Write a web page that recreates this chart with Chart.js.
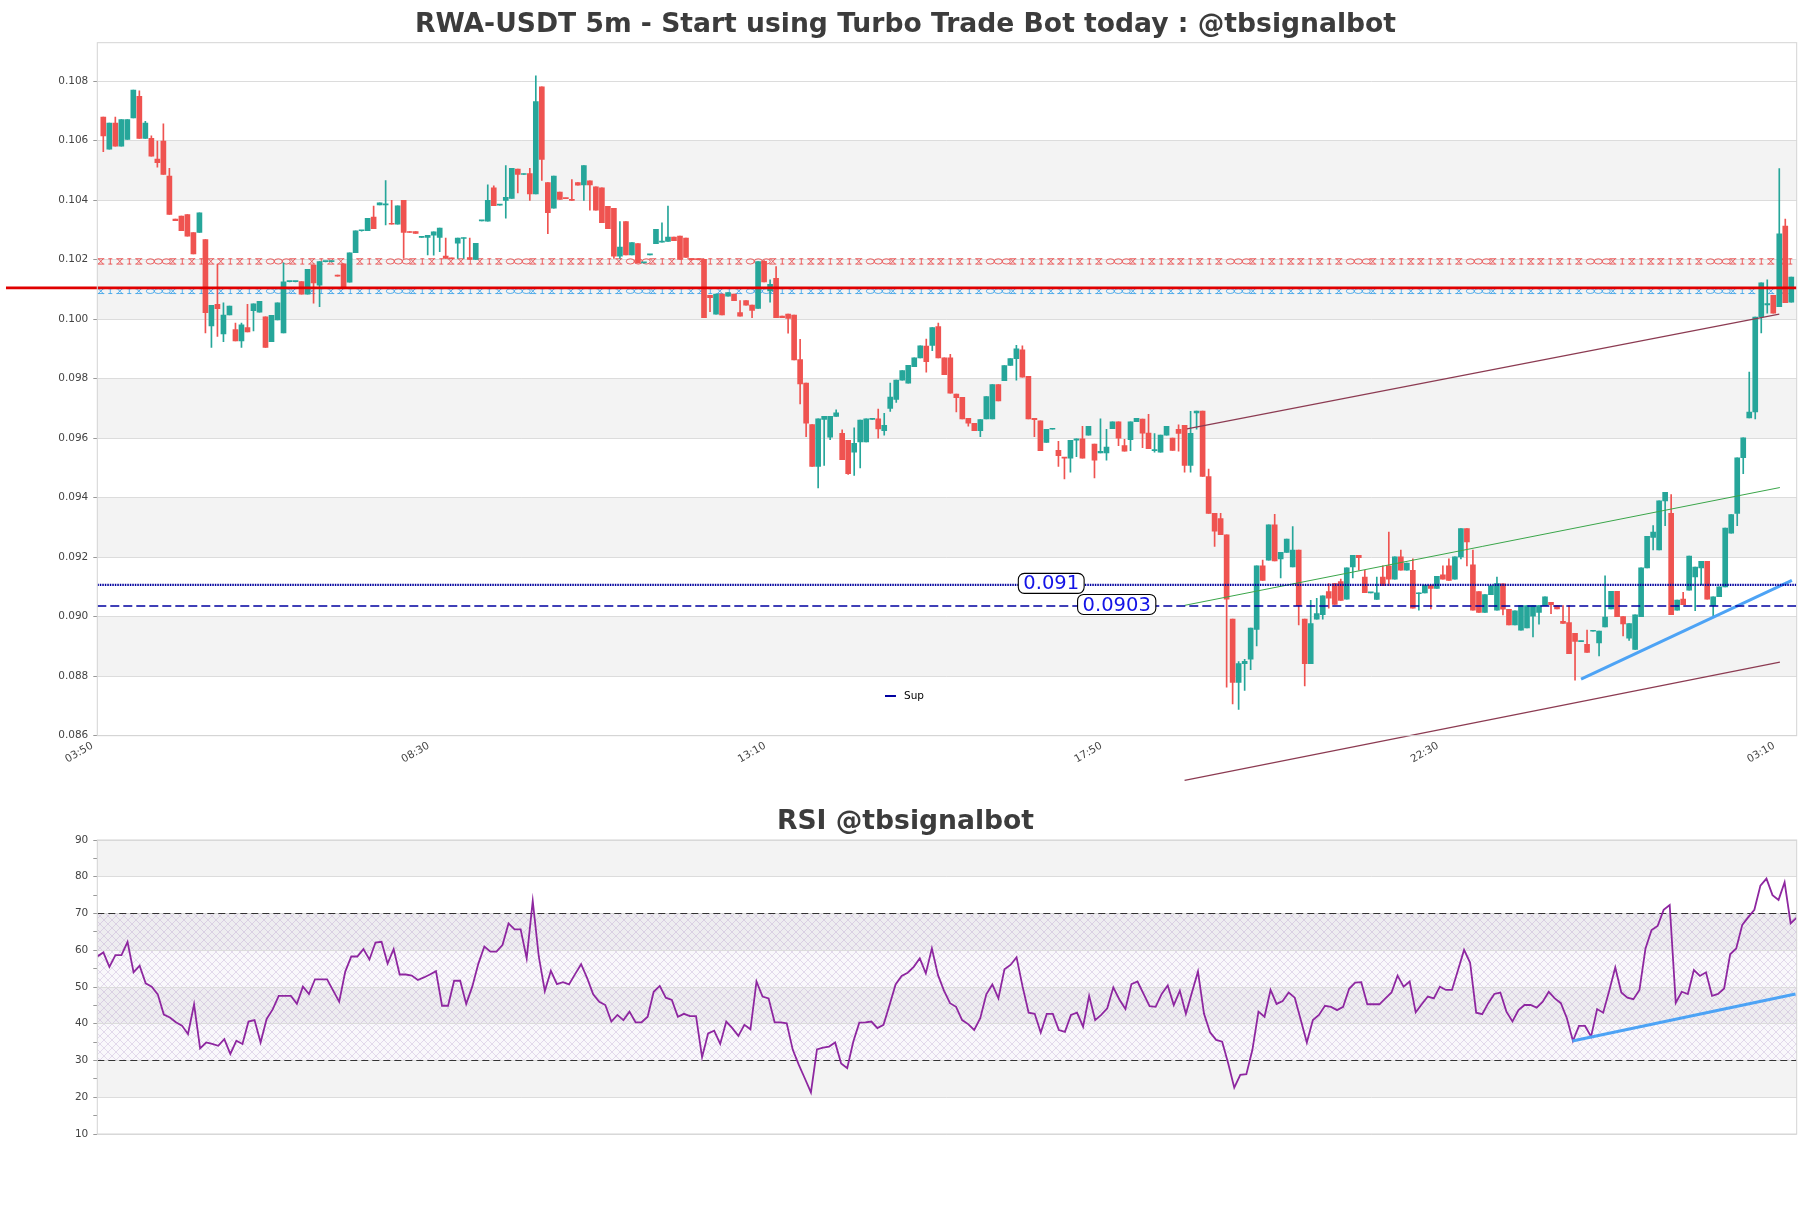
<!DOCTYPE html>
<html>
<head>
<meta charset="utf-8">
<script src="https://cdn.jsdelivr.net/npm/chart.js@4.4.1/dist/chart.umd.min.js"></script>
<style>
  html, body { margin: 0; padding: 0; background: #fff; }
  body { width: 1811px; height: 1208px; position: relative; overflow: hidden; }
  #priceBox { position: absolute; left: 0; top: 0; width: 1811px; height: 800px; }
  #rsiBox { position: absolute; left: 0; top: 800px; width: 1811px; height: 408px; }
</style>
</head>
<body>
<div id="priceBox"><canvas id="priceChart"></canvas></div>
<div id="rsiBox"><canvas id="rsiChart"></canvas></div>
<script>
// candles, one per 5 minutes, first one at 03:55
const opens = [
  .10679,.10571,.10659,.10581,.10604,.10676,.10749,.10607,.10608,.10538,
  .10598,.10481,.10336,.10346,.10351,.10291,.10291,.10267,.09977,.10050,
  .09950,.10014,.09965,.09927,.09972,.10028,.10023,.10008,.09924,.09997,
  .09954,.10126,.10126,.10126,.10084,.10182,.10114,.10193,.10193,.10148,
  .10186,.10124,.10223,.10297,.10297,.10343,.10384,.10384,.10320,.10319,
  .10399,.10294,.10294,.10275,.10275,.10282,.10275,.10212,.10205,.10255,
  .10271,.10207,.10201,.10330,.10329,.10441,.10383,.10399,.10406,.10504,
  .10486,.10489,.10421,.10781,.10459,.10373,.10427,.10407,.10403,.10459,
  .10451,.10465,.10445,.10441,.10379,.10372,.10212,.10328,.10216,.10254,
  .10189,.10216,.10254,.10259,.10261,.10276,.10279,.10272,.10201,.10201,
  .10201,.10080,.10017,.10084,.10077,.10084,.10022,.10062,.10047,.10036,
  .10194,.10095,.10137,.10010,.10017,.10014,.09864,.09785,.09646,.09505,
  .09663,.09603,.09673,.09616,.09593,.09553,.09587,.09587,.09663,.09665,
  .09625,.09700,.09730,.09795,.09785,.09840,.09870,.09909,.09912,.09975,
  .09870,.09870,.09748,.09737,.09667,.09650,.09625,.09665,.09665,.09780,
  .09793,.09844,.09867,.09897,.09808,.09667,.09658,.09586,.09630,.09559,
  .09535,.09533,.09593,.09598,.09610,.09580,.09550,.09550,.09632,.09655,
  .09575,.09595,.09655,.09664,.09617,.09558,.09553,.09610,.09600,.09630,
  .09643,.09508,.09685,.09691,.09471,.09347,.09330,.09275,.08992,.08779,
  .08842,.08857,.08957,.09171,.09190,.09309,.09194,.09216,.09167,.09224,
  .08992,.08842,.08992,.09007,.09084,.09111,.09118,.09059,.09167,.09206,
  .09133,.09080,.09058,.09133,.09171,.09126,.09201,.09156,.09156,.09077,
  .09080,.09106,.09095,.09141,.09171,.09126,.09201,.09296,.09174,.09084,
  .09014,.09074,.09022,.09110,.09025,.08972,.08955,.08962,.09002,.09014,
  .09037,.09048,.09037,.08984,.08980,.08944,.08916,.08907,.08951,.08912,
  .08966,.09026,.09085,.09000,.08928,.08890,.09000,.09164,.09266,.09224,
  .09389,.09347,.09022,.09059,.09089,.09134,.09164,.09186,.09037,.09067,
  .09100,.09281,.09347,.09534,.09668,.09688,.10007,.10048,.10080,.10042,.10313,.10057
];
const highs = [
  .10679,.10659,.10679,.10671,.10671,.10770,.10767,.10665,.10616,.10598,
  .10656,.10507,.10336,.10346,.10351,.10291,.10357,.10267,.10046,.10185,
  .10055,.10044,.09987,.09987,.10050,.10051,.10060,.10008,.10013,.10055,
  .10189,.10127,.10127,.10126,.10167,.10182,.10193,.10194,.10194,.10148,
  .10186,.10223,.10297,.10298,.10339,.10380,.10391,.10466,.10399,.10381,
  .10399,.10294,.10294,.10277,.10282,.10293,.10306,.10272,.10205,.10272,
  .10273,.10272,.10255,.10332,.10451,.10448,.10385,.10516,.10507,.10504,
  .10488,.10507,.10818,.10781,.10459,.10481,.10427,.10407,.10469,.10459,
  .10516,.10465,.10445,.10441,.10379,.10372,.10328,.10328,.10257,.10254,
  .10190,.10217,.10302,.10324,.10380,.10276,.10279,.10272,.10202,.10202,
  .10201,.10080,.10084,.10084,.10089,.10084,.10062,.10062,.10047,.10193,
  .10197,.10132,.10177,.10010,.10017,.10014,.09932,.09785,.09646,.09665,
  .09673,.09673,.09695,.09628,.09593,.09635,.09661,.09665,.09665,.09698,
  .09683,.09785,.09795,.09827,.09845,.09870,.09910,.09933,.09972,.09987,
  .09870,.09882,.09748,.09737,.09667,.09650,.09662,.09740,.09780,.09780,
  .09844,.09867,.09912,.09910,.09808,.09667,.09658,.09630,.09632,.09589,
  .09535,.09593,.09598,.09640,.09640,.09580,.09665,.09630,.09655,.09655,
  .09596,.09655,.09667,.09664,.09680,.09615,.09610,.09640,.09600,.09645,
  .09643,.09690,.09691,.09691,.09496,.09347,.09347,.09275,.08992,.08849,
  .08857,.08962,.09171,.09190,.09309,.09344,.09216,.09261,.09303,.09224,
  .08992,.09055,.09062,.09070,.09111,.09111,.09126,.09164,.09206,.09206,
  .09156,.09082,.09133,.09171,.09284,.09201,.09224,.09180,.09194,.09080,
  .09106,.09106,.09136,.09171,.09194,.09201,.09296,.09296,.09224,.09084,
  .09074,.09104,.09133,.09110,.09025,.09020,.09037,.09037,.09037,.09037,
  .09067,.09048,.09037,.09037,.09037,.08944,.08918,.08955,.08953,.08952,
  .09137,.09085,.09085,.09000,.08977,.09006,.09164,.09270,.09306,.09389,
  .09418,.09410,.09056,.09082,.09204,.09167,.09186,.09186,.09067,.09100,
  .09298,.09343,.09534,.09601,.09822,.10007,.10122,.10132,.10080,.10506,.10336,.10141
];
const lows = [
  .10563,.10571,.10581,.10581,.10604,.10676,.10607,.10607,.10548,.10511,
  .10486,.10352,.10331,.10297,.10279,.10219,.10291,.09954,.09905,.09942,
  .09924,.10014,.09927,.09905,.09957,.09960,.10023,.09905,.09924,.09997,
  .09954,.10125,.10125,.10084,.10084,.10054,.10042,.10192,.10192,.10144,
  .10107,.10124,.10223,.10296,.10297,.10304,.10384,.10317,.10319,.10319,
  .10204,.10291,.10288,.10275,.10216,.10215,.10227,.10204,.10203,.10204,
  .10204,.10201,.10201,.10330,.10329,.10381,.10383,.10339,.10406,.10424,
  .10486,.10399,.10421,.10466,.10287,.10373,.10402,.10405,.10399,.10450,
  .10399,.10366,.10366,.10324,.10304,.10204,.10204,.10216,.10216,.10189,
  .10189,.10216,.10254,.10259,.10261,.10264,.10201,.10207,.10199,.10199,
  .10005,.10025,.10017,.10014,.10077,.10062,.10010,.10047,.10005,.10036,
  .10125,.10057,.10005,.10005,.09953,.09863,.09715,.09605,.09505,.09433,
  .09508,.09595,.09673,.09528,.09478,.09475,.09500,.09587,.09663,.09600,
  .09610,.09690,.09720,.09795,.09785,.09840,.09870,.09822,.09894,.09870,
  .09813,.09751,.09688,.09665,.09640,.09625,.09605,.09665,.09665,.09725,
  .09793,.09844,.09795,.09805,.09665,.09605,.09558,.09586,.09630,.09505,
  .09463,.09486,.09538,.09533,.09610,.09466,.09550,.09526,.09632,.09575,
  .09556,.09558,.09655,.09568,.09565,.09553,.09553,.09610,.09559,.09556,
  .09486,.09486,.09630,.09471,.09347,.09236,.09276,.08763,.08707,.08688,
  .08752,.08822,.08902,.09122,.09190,.09187,.09130,.09216,.09167,.08972,
  .08767,.08842,.08992,.08992,.09029,.09041,.09055,.09059,.09130,.09156,
  .09081,.09080,.09058,.09104,.09104,.09126,.09156,.09156,.09029,.09022,
  .09080,.09026,.09095,.09126,.09122,.09126,.09194,.09171,.09022,.09014,
  .09014,.09074,.09022,.09006,.08972,.08972,.08955,.08962,.08932,.08975,
  .09037,.09010,.09026,.08977,.08876,.08787,.08916,.08880,.08951,.08868,
  .08966,.09026,.09000,.08935,.08920,.08890,.09000,.09164,.09224,.09224,
  .09306,.09007,.09022,.09040,.09089,.09020,.09107,.09059,.08999,.09067,
  .09100,.09281,.09306,.09481,.09668,.09665,.09954,.10020,.10020,.10042,.10055,.10057
];
const closes = [
  .10616,.10659,.10581,.10671,.10671,.10770,.10607,.10659,.10548,.10526,
  .10486,.10352,.10331,.10297,.10279,.10219,.10357,.10022,.10046,.10035,
  .10014,.10044,.09927,.09981,.09957,.10051,.10060,.09905,.10013,.10055,
  .10125,.10127,.10127,.10084,.10167,.10122,.10193,.10194,.10194,.10144,
  .10107,.10223,.10297,.10298,.10339,.10304,.10391,.10386,.10319,.10381,
  .10291,.10291,.10288,.10277,.10282,.10293,.10306,.10204,.10203,.10272,
  .10273,.10201,.10255,.10332,.10399,.10381,.10385,.10409,.10507,.10486,
  .10488,.10421,.10731,.10537,.10358,.10481,.10402,.10405,.10399,.10450,
  .10516,.10451,.10366,.10324,.10304,.10212,.10242,.10216,.10257,.10189,
  .10190,.10217,.10302,.10261,.10276,.10264,.10201,.10207,.10200,.10200,
  .10005,.10072,.10084,.10014,.10089,.10062,.10010,.10047,.10029,.10193,
  .10125,.10117,.10005,.10005,.10002,.09863,.09782,.09650,.09505,.09665,
  .09673,.09673,.09685,.09528,.09481,.09583,.09661,.09665,.09665,.09631,
  .09643,.09738,.09795,.09827,.09845,.09870,.09910,.09857,.09972,.09870,
  .09813,.09751,.09736,.09665,.09650,.09625,.09662,.09740,.09780,.09725,
  .09844,.09867,.09900,.09805,.09665,.09662,.09558,.09630,.09632,.09541,
  .09533,.09593,.09598,.09533,.09640,.09526,.09556,.09570,.09655,.09600,
  .09556,.09655,.09667,.09617,.09565,.09560,.09610,.09640,.09559,.09616,
  .09508,.09616,.09691,.09471,.09347,.09287,.09276,.09059,.08779,.08842,
  .08850,.08962,.09171,.09122,.09309,.09187,.09216,.09261,.09224,.09037,
  .08842,.08977,.09010,.09070,.09062,.09041,.09055,.09164,.09206,.09198,
  .09081,.09082,.09080,.09104,.09126,.09201,.09156,.09180,.09029,.09080,
  .09106,.09095,.09136,.09126,.09122,.09201,.09296,.09251,.09022,.09014,
  .09074,.09104,.09111,.09025,.08972,.09020,.09037,.09037,.09037,.09037,
  .09067,.09040,.09026,.08977,.08876,.08917,.08918,.08880,.08953,.08952,
  .08999,.09085,.09000,.08976,.08977,.09006,.09164,.09270,.09284,.09389,
  .09418,.09007,.09056,.09040,.09204,.09167,.09186,.09059,.09067,.09100,
  .09298,.09343,.09534,.09601,.09688,.10007,.10122,.10052,.10020,.10287,.10055,.10141
];

const rsiValues = [
  58.3,59.4,55.5,58.7,58.7,62.3,54.0,55.8,51.0,50.1,
  48.0,42.5,41.7,40.4,39.5,37.2,45.3,33.3,34.9,34.5,
  34.0,35.8,31.8,35.4,34.5,40.6,41.0,34.9,41.3,43.9,
  47.6,47.6,47.6,45.4,50.1,48.1,52.1,52.1,52.1,49.0,
  46.0,54.2,58.3,58.3,60.3,57.5,62.1,62.3,56.4,60.3,
  53.4,53.4,53.1,51.9,52.6,53.4,54.3,44.9,44.9,51.7,
  51.7,45.4,50.1,56.3,61.0,59.6,59.6,61.4,67.3,65.7,
  65.7,57.8,73.4,58.3,48.9,54.4,50.8,51.3,50.7,53.5,
  56.2,52.4,48.0,46.0,45.1,40.6,42.4,
  41.0,43.3,40.4,40.4,41.9,48.7,50.3,47.1,46.5,41.9,42.7,42.1,42.1,
  30.9,37.4,38.1,34.5,40.6,38.8,36.7,39.7,38.5,51.5,
  47.4,46.9,40.4,40.4,40.1,32.9,28.8,25.1,21.3,33.0,
  33.5,33.8,34.9,29.2,27.9,35.1,40.3,40.4,40.6,38.8,
  39.7,45.1,50.7,53.0,53.9,55.5,57.8,53.7,60.5,53.3,
  49.0,45.6,44.6,41.0,39.9,38.3,41.5,48.0,50.7,46.9,
  54.8,56.0,58.1,50.1,43.0,42.7,37.6,42.7,42.7,38.3,
  37.8,42.4,43.0,39.2,47.6,41.0,42.4,44.2,49.9,46.6,
  44.0,50.8,51.5,48.1,44.8,44.6,48.1,50.4,45.1,49.0,
  42.7,48.5,54.2,42.7,37.7,35.6,
  35.1,29.2,22.6,26.1,26.3,32.9,43.3,41.9,49.2,45.4,
  46.2,48.5,47.1,41.0,34.9,41.0,42.4,44.9,44.6,43.7,
  44.6,49.5,51.2,51.3,45.3,45.3,45.3,46.9,48.5,53.1,
  50.1,51.5,43.1,45.3,47.4,46.9,50.1,49.2,49.2,54.6,
  60.1,56.6,43.0,42.6,45.6,48.1,48.5,43.3,40.6,43.7,
  45.1,45.1,44.4,46.0,48.7,46.9,45.6,41.5,35.3,39.4,
  39.4,36.5,44.0,43.0,49.0,55.3,48.5,47.1,46.7,49.2,
  60.5,65.5,66.6,71.0,72.3,45.7,48.7,48.1,54.6,53.0,
  54.0,47.6,48.1,49.6,58.9,60.5,66.9,69.0,71.0,77.6,
  79.5,75.0,73.7,78.5,67.3,68.9
];

const xTickLabels = ['03:50', '08:30', '13:10', '17:50', '22:30', '03:10'];
const xTickStep = 56;           // 56 candles = 4h40
const xEnd = 282.9;             // right edge of the price axis, in candles
const priceMin = 0.086, priceMax = 0.10929;

const levelRed = 0.10105;
const resistanceBand = [0.10185, 0.10203];
const supportBand = [0.10086, 0.10102];
const supLevels = [0.09107, 0.09036];
const supLabels = ['0.091', '0.0903'];
const channelTop = [{x: 181.4, y: 0.09631}, {x: 280.0, y: 0.10017}];
const channelBottom = [{x: 181.0, y: 0.08450}, {x: 280.1, y: 0.08847}];
const greenTrend = [{x: 181.0, y: 0.09038}, {x: 280.1, y: 0.09434}];
const blueTrend = [{x: 247.0, y: 0.08790}, {x: 282.1, y: 0.09122}];

const rsiLevels = [70, 30];
const rsiTrend = [{x: 243.9, y: 35.3}, {x: 280.8, y: 48.1}];

const GREEN = '#26a69a', RED = '#ef5350';
const SUP_BLUE = '#0000a0';
Chart.defaults.font.family = '"DejaVu Sans", sans-serif';

const bodies = opens.map((o, i) => ({x: i + 1, y: [o, closes[i]]}));
const wicks = opens.map((o, i) => ({x: i + 1, y: [lows[i], highs[i]]}));
const candleColors = opens.map((o, i) => closes[i] >= o ? GREEN : RED);
const flat = (v, from, to) => [{x: from, y: v}, {x: to, y: v}];

// light grey band between every other pair of ticks
function fillBands(chart, values, color) {
  const {ctx, chartArea: a, scales: {y}} = chart;
  ctx.save();
  ctx.fillStyle = color;
  for (let i = 1; i + 1 < values.length; i += 2) {
    const top = y.getPixelForValue(values[i + 1]);
    const bot = y.getPixelForValue(values[i]);
    ctx.fillRect(a.left, top, a.right - a.left, bot - top);
  }
  ctx.restore();
}

function drawFrame(chart) {
  const {ctx, chartArea: a} = chart;
  ctx.save();
  ctx.strokeStyle = '#d4d4d4';
  ctx.lineWidth = 1;
  ctx.strokeRect(a.left, a.top, a.right - a.left, a.bottom - a.top);
  ctx.restore();
}

function drawTitle(chart, text, baseline) {
  const ctx = chart.ctx;
  ctx.save();
  ctx.font = 'bold 26.6px "DejaVu Sans"';
  ctx.fillStyle = '#3c3c3c';
  ctx.textAlign = 'center';
  ctx.textBaseline = 'alphabetic';
  ctx.fillText(text, chart.width / 2, baseline);
  ctx.restore();
}

// band drawn as a row of x and o marks
function drawXoBand(chart, band, color) {
  const {ctx, chartArea: a, scales: {y}} = chart;
  const top = y.getPixelForValue(band[1]);
  const bot = y.getPixelForValue(band[0]);
  const mid = (top + bot) / 2, h = bot - top;
  ctx.save();
  ctx.beginPath();
  ctx.rect(a.left, a.top, a.right - a.left, a.bottom - a.top);
  ctx.clip();
  ctx.strokeStyle = color;
  ctx.lineWidth = 0.8;
  ctx.beginPath();
  const pattern = 'xixixoooxixix';
  let x = a.left + 1, n = 0;
  while (x < a.right) {
    const c = pattern[n % pattern.length];
    if (c === 'o') {
      ctx.moveTo(x + 8, mid);
      ctx.ellipse(x + 4, mid, 4, h / 2, 0, 0, Math.PI * 2);
      x += 8;
    } else if (c === 'i') {
      ctx.moveTo(x, top); ctx.lineTo(x + 4, top);
      ctx.moveTo(x + 2, top); ctx.lineTo(x + 2, bot);
      ctx.moveTo(x, bot); ctx.lineTo(x + 4, bot);
      x += 9;
    } else {
      ctx.moveTo(x, top); ctx.lineTo(x + 5, bot);
      ctx.moveTo(x, bot); ctx.lineTo(x + 5, top);
      ctx.moveTo(x - 1, top); ctx.lineTo(x + 6, top);
      ctx.moveTo(x - 1, bot); ctx.lineTo(x + 6, bot);
      x += 10;
    }
    n++;
  }
  ctx.stroke();
  ctx.restore();
}

function roundBox(ctx, x, y, w, h, r) {
  ctx.beginPath();
  ctx.moveTo(x + r, y);
  ctx.arcTo(x + w, y, x + w, y + h, r);
  ctx.arcTo(x + w, y + h, x, y + h, r);
  ctx.arcTo(x, y + h, x, y, r);
  ctx.arcTo(x, y, x + w, y, r);
  ctx.closePath();
}

const pricePlugin = {
  id: 'priceDecor',
  beforeDraw(chart) {
    const {ctx} = chart;
    ctx.save();
    ctx.fillStyle = '#fff';
    ctx.fillRect(0, 0, chart.width, chart.height);
    ctx.restore();
    fillBands(chart, chart.scales.y.ticks.map(t => t.value), '#f3f3f3');
  },
  beforeDatasetsDraw(chart) {
    drawXoBand(chart, resistanceBand, '#e8383a');
    drawXoBand(chart, supportBand, '#2f9de8');
  },
  afterDatasetsDraw(chart) {
    const {ctx, chartArea: a, scales: {x, y}} = chart;
    drawFrame(chart);
    // value boxes on the support lines
    const labelAt = [158.8, 169.7];
    ctx.save();
    ctx.font = '19.5px "DejaVu Sans"';
    ctx.textAlign = 'center';
    ctx.textBaseline = 'middle';
    supLabels.forEach((txt, i) => {
      const cx = x.getPixelForValue(labelAt[i]);
      const cy = y.getPixelForValue(supLevels[i]) - 1.5;
      const w = ctx.measureText(txt).width + 10, h = 20;
      roundBox(ctx, cx - w / 2, cy - h / 2, w, h, 6);
      ctx.fillStyle = '#fff';
      ctx.fill();
      ctx.strokeStyle = '#000';
      ctx.lineWidth = 1.1;
      ctx.stroke();
      ctx.fillStyle = '#1414e6';
      ctx.fillText(txt, cx, cy + 1);
    });
    // legend
    const sup = chart.data.datasets.find(d => d.label === 'Sup');
    const lx = a.left + 0.4635 * (a.right - a.left);
    const ly = a.top + 0.9427 * (a.bottom - a.top);
    ctx.strokeStyle = sup.borderColor;
    ctx.lineWidth = 2;
    ctx.beginPath();
    ctx.moveTo(lx, ly); ctx.lineTo(lx + 11, ly);
    ctx.stroke();
    ctx.font = '10.5px "DejaVu Sans"';
    ctx.fillStyle = '#000';
    ctx.textAlign = 'left';
    ctx.fillText(sup.label, lx + 19, ly);
    ctx.restore();
  },
  afterDraw(chart) {
    drawTitle(chart, 'RWA-USDT 5m - Start using Turbo Trade Bot today : @tbsignalbot', 32);
  }
};

const lineBase = {type: 'line', pointRadius: 0, fill: false, tension: 0, order: 0};

const priceChart = new Chart(document.getElementById('priceChart').getContext('2d'), {
  type: 'bar',
  data: {
    datasets: [
      {...lineBase, label: 'Level', data: flat(levelRed, -15.2, xEnd), borderColor: '#e00000', borderWidth: 2.6, clip: false},
      {...lineBase, label: 'Res', data: flat(supLevels[0], 0, xEnd), borderColor: SUP_BLUE, borderWidth: 2.4, borderDash: [1.5, 1]},
      {...lineBase, label: 'Sup', data: flat(supLevels[1], 0, xEnd), borderColor: SUP_BLUE, borderWidth: 1.5, borderDash: [9, 4]},
      {...lineBase, label: 'Channel top', data: channelTop, borderColor: '#8c3b52', borderWidth: 1.2, clip: false},
      {...lineBase, label: 'Channel bottom', data: channelBottom, borderColor: '#8c3b52', borderWidth: 1.2, clip: false},
      {...lineBase, label: 'Trend', data: greenTrend, borderColor: '#3aa64a', borderWidth: 1},
      {...lineBase, label: 'Support trend', data: blueTrend, borderColor: '#4da3f5', borderWidth: 3},
      {type: 'bar', label: 'Body', data: bodies, backgroundColor: candleColors, barThickness: 5, minBarLength: 1, grouped: false, order: 1},
      {type: 'bar', label: 'Wick', data: wicks, backgroundColor: candleColors, barThickness: 1, grouped: false, order: 2}
    ]
  },
  options: {
    responsive: true,
    maintainAspectRatio: false,
    animation: false,
    events: [],
    layout: {padding: {top: 42.7, right: 14.3, left: 0, bottom: 0}},
    plugins: {legend: {display: false}, tooltip: {enabled: false}},
    scales: {
      x: {
        type: 'linear', min: 0, max: xEnd, offset: false,
        grid: {display: false},
        border: {display: false},
        afterBuildTicks: s => { s.ticks = xTickLabels.map((_, i) => ({value: i * xTickStep})); },
        ticks: {
          autoSkip: false,
          minRotation: 30, maxRotation: 30, padding: -4, labelOffset: -5,
          font: {size: 10.5}, color: '#444',
          callback: v => xTickLabels[Math.round(v / xTickStep)] ?? ''
        },
        afterFit: s => { s.height = 64.3; }
      },
      y: {
        min: priceMin, max: priceMax, beginAtZero: false,
        grid: {color: '#dcdcdc', tickColor: '#999', tickLength: 4},
        border: {display: false},
        ticks: {
          stepSize: 0.002, includeBounds: false, padding: 5,
          font: {size: 10.5}, color: '#444',
          callback: v => v.toFixed(3)
        },
        afterFit: s => { s.width = 97.3; }
      }
    }
  },
  plugins: [pricePlugin]
});

// RSI panel
function makeHatch() {
  const c = document.createElement('canvas');
  c.width = 8; c.height = 8;
  const g = c.getContext('2d');
  g.strokeStyle = 'rgba(165,130,190,0.38)';
  g.lineWidth = 0.7;
  g.beginPath();
  g.moveTo(0, 0); g.lineTo(8, 8);
  g.moveTo(8, 0); g.lineTo(0, 8);
  g.stroke();
  return c;
}
const hatchTile = makeHatch();

const rsiPlugin = {
  id: 'rsiDecor',
  beforeDraw(chart) {
    const {ctx, chartArea: a, scales: {y}} = chart;
    ctx.save();
    ctx.fillStyle = '#fff';
    ctx.fillRect(0, 0, chart.width, chart.height);
    ctx.restore();
    const majors = y.ticks.map(t => t.value).filter(v => v % 10 === 0);
    fillBands(chart, majors, '#f3f3f3');
    const top = y.getPixelForValue(rsiLevels[0]);
    const bot = y.getPixelForValue(rsiLevels[1]);
    ctx.save();
    ctx.fillStyle = 'rgba(200,185,215,0.10)';
    ctx.fillRect(a.left, top, a.right - a.left, bot - top);
    ctx.fillStyle = ctx.createPattern(hatchTile, 'repeat');
    ctx.fillRect(a.left, top, a.right - a.left, bot - top);
    ctx.restore();
  },
  afterDatasetsDraw(chart) {
    drawFrame(chart);
  },
  afterDraw(chart) {
    drawTitle(chart, 'RSI @tbsignalbot', 29);
  }
};

const rsiChart = new Chart(document.getElementById('rsiChart').getContext('2d'), {
  type: 'line',
  data: {
    datasets: [
      {label: 'RSI', data: rsiValues.map((v, i) => ({x: i, y: v})), borderColor: '#8e27a0', borderWidth: 1.8, pointRadius: 0, tension: 0, order: 1},
      {label: 'Upper', data: flat(rsiLevels[0], 0, rsiValues.length - 1), borderColor: '#333', borderWidth: 1.2, borderDash: [7, 4], pointRadius: 0, order: 2},
      {label: 'Lower', data: flat(rsiLevels[1], 0, rsiValues.length - 1), borderColor: '#333', borderWidth: 1.2, borderDash: [7, 4], pointRadius: 0, order: 2},
      {label: 'RSI trend', data: rsiTrend, borderColor: '#4da3f5', borderWidth: 3, pointRadius: 0, order: 0}
    ]
  },
  options: {
    responsive: true,
    maintainAspectRatio: false,
    animation: false,
    events: [],
    layout: {padding: {top: 40, right: 14.3, left: 0, bottom: 0}},
    plugins: {legend: {display: false}, tooltip: {enabled: false}},
    scales: {
      x: {
        type: 'linear', min: 0, max: rsiValues.length - 1,
        grid: {display: false},
        border: {display: false},
        ticks: {display: false},
        afterFit: s => { s.height = 74; }
      },
      y: {
        min: 10, max: 90,
        grid: {
          color: c => (c.tick && c.tick.value % 10 === 0) ? '#dcdcdc' : 'rgba(0,0,0,0)',
          tickColor: '#999', tickLength: 4
        },
        border: {display: false},
        ticks: {
          stepSize: 5, includeBounds: false, padding: 5,
          font: {size: 10.5}, color: '#444',
          callback: v => v % 10 === 0 ? String(v) : ''
        },
        afterFit: s => { s.width = 97.3; }
      }
    }
  },
  plugins: [rsiPlugin]
});
</script>
</body>
</html>
